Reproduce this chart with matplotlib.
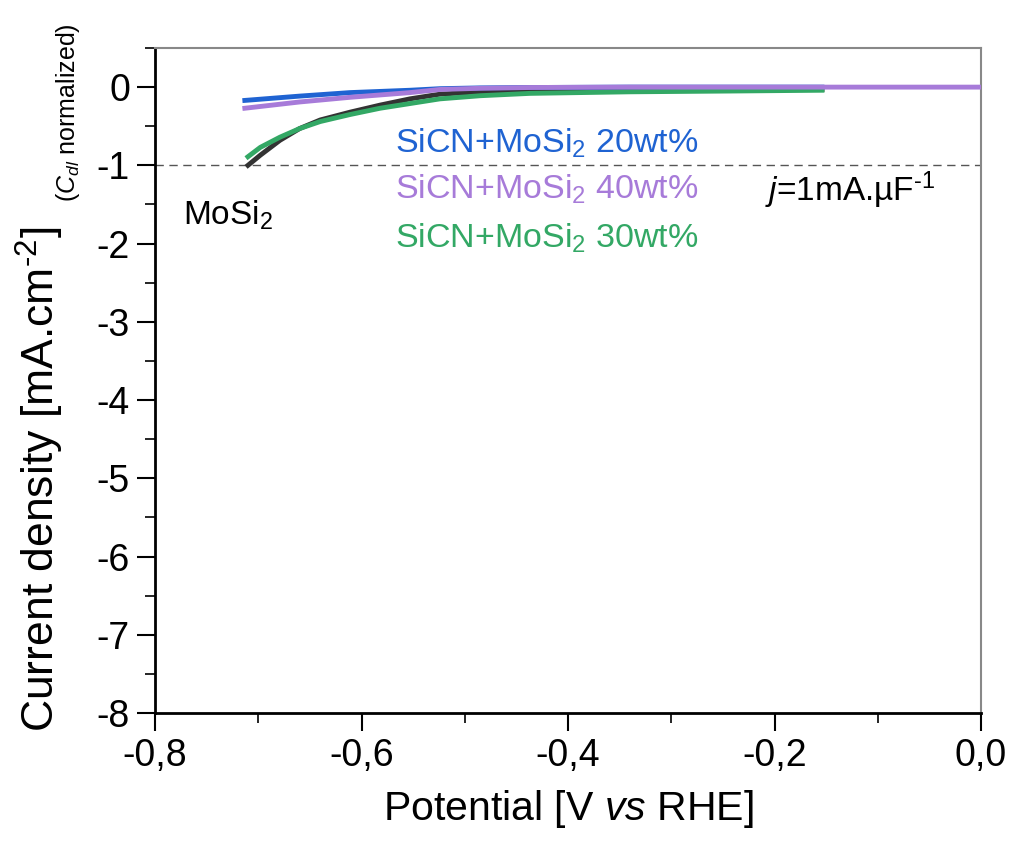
import matplotlib

matplotlib.use("Agg")
import matplotlib.pyplot as plt  # noqa: E402
from matplotlib.ticker import FuncFormatter, MultipleLocator  # noqa: E402

# Potential [V vs RHE] and current density [mA/cm2]
v_mosi2 = [-0.710, -0.698, -0.679, -0.660, -0.640, -0.611, -0.582, -0.553, -0.524, -0.485, -0.437, -0.340, -0.243, -0.154]
j_mosi2 = [-1.00, -0.87, -0.68, -0.53, -0.42, -0.32, -0.23, -0.15, -0.09, -0.06, -0.05, -0.04, -0.03, -0.03]

v_20 = [-0.713, -0.660, -0.611, -0.553, -0.524, -0.485, -0.437, -0.340, -0.243, -0.154]
j_20 = [-0.17, -0.115, -0.07, -0.04, -0.02, -0.01, -0.005, 0.0, 0.0, 0.0]

v_40 = [-0.713, -0.660, -0.611, -0.553, -0.524, -0.485, -0.437, -0.340, -0.243, -0.154, 0.0]
j_40 = [-0.27, -0.19, -0.13, -0.07, -0.03, -0.015, -0.005, 0.0, 0.0, 0.0, 0.0]

v_30 = [-0.710, -0.698, -0.679, -0.660, -0.640, -0.611, -0.582, -0.553, -0.524, -0.485, -0.437, -0.340, -0.243, -0.154]
j_30 = [-0.89, -0.77, -0.64, -0.53, -0.44, -0.35, -0.27, -0.21, -0.15, -0.11, -0.08, -0.06, -0.05, -0.04]

J_REF = -1.0

FONT = ["Liberation Sans", "DejaVu Sans"]
HY = "\u2010"  # plain hyphen for superscripts, the picture has no minus sign

C_BLUE = "#1f63d2"
C_PURPLE = "#a77bd9"
C_GREEN = "#33a865"
C_BLACK = "#333333"

plt.rcParams["font.family"] = FONT
plt.rcParams["mathtext.fontset"] = "custom"
plt.rcParams["mathtext.rm"] = "Liberation Sans"
plt.rcParams["mathtext.it"] = "Liberation Sans:italic"

W, H = 1012, 843
fig = plt.figure(figsize=(W / 100, H / 100), dpi=100)
ax = fig.add_axes([155 / W, 1 - 713 / H, (981 - 155) / W, (713 - 48) / H])

ax.axhline(J_REF, color="#555555", linewidth=1.0, linestyle=(0, (6, 4)), zorder=1)

ax.plot(v_20, j_20, color=C_BLUE, linewidth=3.5, zorder=3)
ax.plot(v_mosi2, j_mosi2, color=C_BLACK, linewidth=3.5, zorder=2)
ax.plot(v_30, j_30, color=C_GREEN, linewidth=3.5, zorder=3)
ax.plot(v_40, j_40, color=C_PURPLE, linewidth=3.5, zorder=4)

ax.set_xlim(-0.8, 0.0)
ax.set_ylim(-8, 0.5)
ax.xaxis.set_major_locator(MultipleLocator(0.2))
ax.xaxis.set_minor_locator(MultipleLocator(0.1))
ax.yaxis.set_major_locator(MultipleLocator(1))
ax.yaxis.set_minor_locator(MultipleLocator(0.5))
ax.xaxis.set_major_formatter(FuncFormatter(lambda v, _: f"{v:.1f}".replace(".", ",").replace("-0,0", "0,0")))
ax.yaxis.set_major_formatter(FuncFormatter(lambda v, _: f"{int(round(v))}"))

ax.tick_params(which="major", direction="out", length=13, width=1.5, labelsize=27, pad=5)
ax.tick_params(which="minor", direction="out", length=7, width=1.2)

for side in ("left", "bottom"):
    ax.spines[side].set_linewidth(2.0)
    ax.spines[side].set_color("black")
for side in ("top", "right"):
    ax.spines[side].set_linewidth(1.5)
    ax.spines[side].set_color("#888888")

ax.set_xlabel("Potential [V $\\it{vs}$ RHE]", fontsize=29.5, labelpad=10)

fig.text(40 / W, 1 - 479 / H, "Current density [mA.cm$^{" + HY + "2}$]", rotation=90,
         ha="center", va="center", fontsize=32)
fig.text(68 / W, 1 - 113 / H, "($C_{dl}$ normalized)", rotation=90,
         ha="center", va="center", fontsize=18)

fig.text(395 / W, 1 - 143 / H, "SiCN+MoSi$_2$ 20wt%", color=C_BLUE, fontsize=24.5, va="center")
fig.text(395 / W, 1 - 189 / H, "SiCN+MoSi$_2$ 40wt%", color=C_PURPLE, fontsize=24.5, va="center")
fig.text(395 / W, 1 - 238 / H, "SiCN+MoSi$_2$ 30wt%", color=C_GREEN, fontsize=24.5, va="center")
fig.text(183 / W, 1 - 215 / H, "MoSi$_2$", color="black", fontsize=24, va="center")
fig.text(765 / W, 1 - 190 / H, "$\\it{j}$=1mA.µF$^{" + HY + "1}$", color="black", fontsize=24, va="center")

fig.savefig("out.png", dpi=100)
